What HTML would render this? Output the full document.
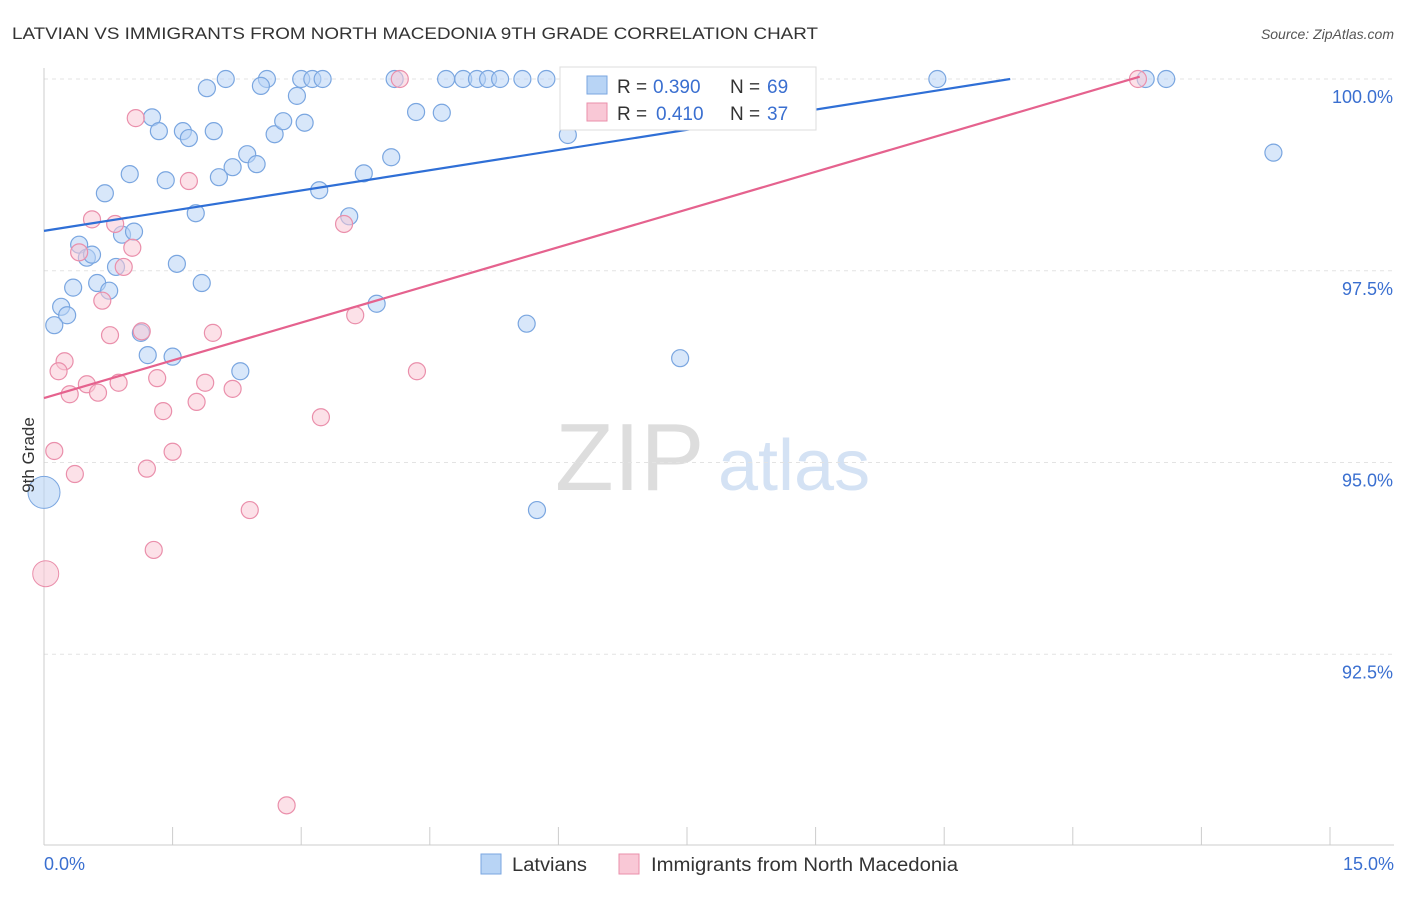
<!DOCTYPE html>
<html><head><meta charset="utf-8"><style>
body{margin:0;background:#fff;font-family:"Liberation Sans",sans-serif;}
svg text{font-family:"Liberation Sans",sans-serif;}
</style></head><body>
<svg id="chart" width="1406" height="892" xmlns="http://www.w3.org/2000/svg">
<text x="12" y="39" font-size="17" fill="#333" textLength="806" lengthAdjust="spacingAndGlyphs">LATVIAN VS IMMIGRANTS FROM NORTH MACEDONIA 9TH GRADE CORRELATION CHART</text>
<text x="1394" y="39" font-size="14" fill="#555" text-anchor="end" font-style="italic">Source: ZipAtlas.com</text>
<text x="555" y="490" font-size="96" fill="#ddd" font-family="Liberation Serif">ZIP</text>
<text x="718" y="490" font-size="72" fill="#d4e2f4">atlas</text>
<g id="grid"></g><g id="axes"></g><g id="marks"></g>
<text transform="translate(34,455) rotate(-90)" font-size="17" fill="#333" text-anchor="middle">9th Grade</text>
<g>
<rect x="560" y="67" width="256" height="63" fill="#fff" stroke="#ddd"/>
<rect x="587" y="76" width="20" height="18" fill="#b8d4f5" stroke="#7aa6e0"/>
<text x="617" y="93" font-size="19" fill="#333">R = </text>
<text x="653" y="93" font-size="19" fill="#3a6fd0">0.390</text>
<text x="730" y="93" font-size="19" fill="#333">N = </text>
<text x="767" y="93" font-size="19" fill="#3a6fd0">69</text>
<rect x="587" y="103" width="20" height="18" fill="#f9c8d6" stroke="#ea8fab"/>
<text x="617" y="120" font-size="19" fill="#333">R = </text>
<text x="656" y="120" font-size="19" fill="#3a6fd0">0.410</text>
<text x="730" y="120" font-size="19" fill="#333">N = </text>
<text x="767" y="120" font-size="19" fill="#3a6fd0">37</text>
</g>
<g>
<rect x="481" y="854" width="20" height="20" fill="#b8d4f5" stroke="#7aa6e0"/>
<text x="512" y="871" font-size="19" fill="#333" textLength="75" lengthAdjust="spacingAndGlyphs">Latvians</text>
<rect x="619" y="854" width="20" height="20" fill="#f9c8d6" stroke="#ea8fab"/>
<text x="651" y="871" font-size="19" fill="#333" textLength="307" lengthAdjust="spacingAndGlyphs">Immigrants from North Macedonia</text>
</g>
</svg>
<script>
const xTicks=[0,1.5,3,4.5,6,7.5,9,10.5,12,13.5,15];
const yTicks=[92.5,95,97.5,100];
const yTickLabels=["92.5%","95.0%","97.5%","100.0%"];
const bluePx=[[226,79],[267,79],[301,79],[312,79],[323,79],[395,79],[446,79],[463,79],[477,79],[488,79],[500,79],[522,79],[546,79],[727,79],[773,79],[937,79],[1146,79],[1166,79],[207,88],[261,86],[297,96],[152,117],[416,112],[442,113],[159,131],[183,131],[189,138],[214,131],[275,134],[283,121],[305,123],[568,135],[1273,153],[247,154],[233,167],[257,164],[391,157],[130,174],[166,180],[219,177],[364,173],[105,193],[319,190],[196,213],[349,216],[122,235],[134,232],[79,245],[87,258],[92,255],[177,264],[116,267],[73,288],[97,283],[109,291],[202,283],[61,307],[67,315],[54,325],[377,304],[527,324],[141,333],[148,355],[173,357],[680,358],[240,371],[537,510]];
const pinkPx=[[400,79],[1138,79],[136,118],[189,181],[92,219],[115,224],[344,224],[79,252],[132,248],[124,267],[102,301],[110,335],[142,331],[213,333],[355,315],[65,361],[59,371],[417,371],[87,384],[119,383],[157,378],[205,383],[70,394],[98,393],[233,389],[197,402],[163,411],[321,417],[54,451],[173,452],[75,474],[147,469],[250,510],[154,550],[287,805]];
const blueX=bluePx.map(p=>+((p[0]-44)/85.73).toFixed(2));
const blueY=bluePx.map(p=>+(100-(p[1]-79)/76.7).toFixed(2));
const pinkX=pinkPx.map(p=>+((p[0]-44)/85.73).toFixed(2));
const pinkY=pinkPx.map(p=>+(100-(p[1]-79)/76.7).toFixed(2));
const blueBig=[[0,94.61]];const pinkBig=[[0.02,93.55]];
const blueLine=[[0,98.02],[11.27,100]];
const pinkLine=[[0,95.84],[12.78,100.03]];
const X=v=>44+v/15*1286, Y=v=>79+(100-v)*76.7;
const ns="http://www.w3.org/2000/svg";
function mk(t,a,parent){const e=document.createElementNS(ns,t);for(const k in a)e.setAttribute(k,a[k]);document.getElementById(parent).appendChild(e);return e;}
yTicks.forEach((v,i)=>{
 const l=mk('line',{x1:44,x2:1394,y1:Y(v),y2:Y(v),stroke:'#e3e3e3','stroke-dasharray':'4,4'},'grid');
 
 
 const t=mk('text',{x:1393,y:Y(v)+24,'font-size':18,fill:'#3a6fd0','text-anchor':'end'},'axes');t.textContent=yTickLabels[i];
 
 
});
const ax=mk('line',{x1:44,x2:44,y1:68,y2:845,stroke:'#ccc'},'axes');


const bx=mk('line',{x1:44,x2:1394,y1:845,y2:845,stroke:'#ccc'},'axes');


xTicks.forEach(v=>{const l=mk('line',{x1:X(v),x2:X(v),y1:827,y2:845,stroke:'#ccc'},'axes');
 
 });
let t=mk('text',{x:44,y:870,'font-size':18,fill:'#3a6fd0'},'axes');t.textContent='0.0%';


t=mk('text',{x:1394,y:870,'font-size':18,fill:'#3a6fd0','text-anchor':'end'},'axes');t.textContent='15.0%';


function dots(xs,ys,fill,stroke,name){xs.forEach((x,i)=>{const c=mk('circle',{cx:X(x),cy:Y(ys[i]),r:8.5,fill:fill,'fill-opacity':0.55,stroke:stroke,'stroke-width':1.2},'marks');
 
 });}
dots(blueX,blueY,'#b8d4f5','#7aa6e0','latvian-point');
dots(pinkX,pinkY,'#f9c8d6','#ea8fab','macedonia-point');
blueBig.forEach(p=>{const c=mk('circle',{cx:X(p[0]),cy:Y(p[1]),r:16,fill:'#b8d4f5','fill-opacity':0.6,stroke:'#7aa6e0'},'marks');
 
 });
pinkBig.forEach(p=>{const c=mk('circle',{cx:X(p[0]),cy:Y(p[1]),r:13,fill:'#f9c8d6','fill-opacity':0.6,stroke:'#ea8fab'},'marks');
 
 });
let ln=mk('line',{x1:X(blueLine[0][0]),y1:Y(blueLine[0][1]),x2:X(blueLine[1][0]),y2:Y(blueLine[1][1]),stroke:'#2f6fd6','stroke-width':2.2},'marks');


ln=mk('line',{x1:X(pinkLine[0][0]),y1:Y(pinkLine[0][1]),x2:X(pinkLine[1][0]),y2:Y(pinkLine[1][1]),stroke:'#e5628e','stroke-width':2.2},'marks');


</script>
</body></html>
